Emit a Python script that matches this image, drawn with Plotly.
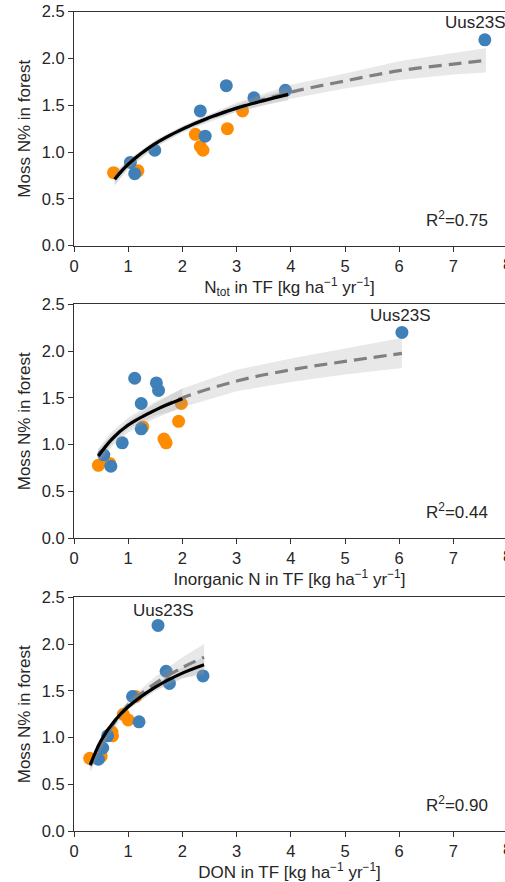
import plotly.graph_objects as go

# ---------------- data ----------------
moss_blue = [2.20, 0.89, 0.77, 1.02, 1.44, 1.17, 1.71, 1.58, 1.66]
moss_orange = [0.78, 0.80, 1.19, 1.06, 1.02, 1.25, 1.44]

ntot_blue = [7.58, 1.04, 1.12, 1.49, 2.33, 2.42, 2.81, 3.32, 3.90]
ntot_orange = [0.73, 1.18, 2.24, 2.33, 2.38, 2.83, 3.11]

inorg_blue = [6.05, 0.55, 0.68, 0.89, 1.24, 1.24, 1.12, 1.56, 1.52]
inorg_orange = [0.45, 0.66, 1.27, 1.66, 1.70, 1.93, 1.98]

don_blue = [1.55, 0.53, 0.45, 0.62, 1.08, 1.20, 1.70, 1.76, 2.38]
don_orange = [0.29, 0.50, 1.00, 0.70, 0.71, 0.91, 1.14]

# fitted curves (solid: without Uus23S, dashed: with Uus23S)
fit1_x = [0.75, 1.0, 1.5, 2.0, 2.5, 3.0, 3.5, 3.95]
fit1_y = [0.71, 0.87, 1.09, 1.245, 1.37, 1.47, 1.55, 1.617]
fit1_lo = [0.65, 0.83, 1.06, 1.215, 1.34, 1.43, 1.50, 1.55]
fit1_hi = [0.77, 0.91, 1.12, 1.275, 1.40, 1.51, 1.60, 1.68]
dash1_x = [0.75, 1.0, 1.5, 2.0, 3.0, 4.0, 5.0, 6.0, 7.0, 7.6]
dash1_y = [0.71, 0.87, 1.09, 1.245, 1.47, 1.64, 1.76, 1.87, 1.94, 1.98]
dash1_lo = [0.64, 0.82, 1.05, 1.21, 1.43, 1.57, 1.68, 1.77, 1.83, 1.85]
dash1_hi = [0.78, 0.92, 1.13, 1.28, 1.53, 1.72, 1.84, 1.97, 2.06, 2.11]

fit2_x = [0.45, 0.7, 1.0, 1.5, 2.0]
fit2_y = [0.88, 1.06, 1.21, 1.37, 1.49]
fit2_lo = [0.81, 1.01, 1.17, 1.31, 1.39]
fit2_hi = [0.95, 1.11, 1.25, 1.44, 1.60]
dash2_x = [0.45, 0.7, 1.0, 1.5, 2.0, 3.0, 4.0, 5.0, 6.05]
dash2_y = [0.88, 1.06, 1.21, 1.37, 1.50, 1.68, 1.80, 1.89, 1.975]
dash2_lo = [0.80, 0.98, 1.13, 1.28, 1.40, 1.57, 1.67, 1.75, 1.82]
dash2_hi = [0.96, 1.14, 1.29, 1.46, 1.60, 1.80, 1.92, 2.03, 2.14]

fit3_x = [0.3, 0.5, 0.75, 1.0, 1.5, 2.0, 2.4]
fit3_y = [0.71, 0.97, 1.18, 1.33, 1.54, 1.69, 1.78]
fit3_lo = [0.66, 0.94, 1.15, 1.30, 1.50, 1.63, 1.70]
fit3_hi = [0.76, 1.00, 1.21, 1.36, 1.58, 1.75, 1.86]
dash3_x = [0.3, 0.6, 1.0, 1.5, 2.0, 2.4]
dash3_y = [0.70, 1.03, 1.35, 1.58, 1.75, 1.86]
dash3_lo = [0.63, 0.98, 1.30, 1.51, 1.64, 1.67]
dash3_hi = [0.77, 1.08, 1.40, 1.65, 1.86, 2.00]

outlier_label = "Uus23S"
outlier_pos = [(7.40, 2.38), (6.01, 2.375), (1.65, 2.36)]
r2_texts = ["R<sup>2</sup>=0.75", "R<sup>2</sup>=0.44", "R<sup>2</sup>=0.90"]

x_titles = [
    "N<sub>tot</sub> in TF [kg ha<sup>−1</sup> yr<sup>−1</sup>]",
    "Inorganic N in TF [kg ha<sup>−1</sup> yr<sup>−1</sup>]",
    "DON in TF [kg ha<sup>−1</sup> yr<sup>−1</sup>]",
]
y_title = "Moss N% in forest"
x_ticks = [0, 1, 2, 3, 4, 5, 6, 7]
y_ticks = [0.0, 0.5, 1.0, 1.5, 2.0, 2.5]

# ---------------- styling ----------------
W, H = 505, 882
FONT = "Liberation Sans, Arial, sans-serif"
TXT = "#262626"
BLUE = "#4080b8"
ORANGE = "#ff8c00"
BAND = "rgba(150,150,150,0.22)"
TICK_FS = 16.5
TITLE_FS = 17

panels = [
    dict(bx=ntot_blue, ox=ntot_orange, fx=fit1_x, fy=fit1_y, flo=fit1_lo, fhi=fit1_hi,
         dx=dash1_x, dy=dash1_y, dlo=dash1_lo, dhi=dash1_hi),
    dict(bx=inorg_blue, ox=inorg_orange, fx=fit2_x, fy=fit2_y, flo=fit2_lo, fhi=fit2_hi,
         dx=dash2_x, dy=dash2_y, dlo=dash2_lo, dhi=dash2_hi),
    dict(bx=don_blue, ox=don_orange, fx=fit3_x, fy=fit3_y, flo=fit3_lo, fhi=fit3_hi,
         dx=dash3_x, dy=dash3_y, dlo=dash3_lo, dhi=dash3_hi),
]

# pixel layout (top, bottom of each plotting area)
px_top = [11.7, 304.3, 597.3]
px_bot = [245.7, 538.3, 831.3]
left = 74
px_per_unit = 54.2
plot_w = W - left
x_max = plot_w / px_per_unit

fig = go.Figure()
layout = dict(
    width=W, height=H,
    margin=dict(l=left, r=0, t=0, b=0, autoexpand=False),
    paper_bgcolor="white", plot_bgcolor="white",
    showlegend=False,
    font=dict(family=FONT, color=TXT, size=TICK_FS),
)

annotations = []
for i, p in enumerate(panels):
    n = i + 1
    xa = "x" if n == 1 else f"x{n}"
    ya = "y" if n == 1 else f"y{n}"
    # points
    fig.add_trace(go.Scatter(x=p["ox"], y=moss_orange, mode="markers", xaxis=xa, yaxis=ya,
                             marker=dict(color=ORANGE, size=13, line=dict(width=0))))
    fig.add_trace(go.Scatter(x=p["bx"], y=moss_blue, mode="markers", xaxis=xa, yaxis=ya,
                             marker=dict(color=BLUE, size=13, line=dict(width=0))))
    # bands
    for bx, lo, hi in [(p["dx"], p["dlo"], p["dhi"]), (p["fx"], p["flo"], p["fhi"])]:
        fig.add_trace(go.Scatter(x=bx + bx[::-1], y=hi + lo[::-1], mode="lines", fill="toself",
                                 fillcolor=BAND, line=dict(width=0),
                                 xaxis=xa, yaxis=ya, hoverinfo="skip"))
    # dashed fit
    fig.add_trace(go.Scatter(x=p["dx"], y=p["dy"], mode="lines", xaxis=xa, yaxis=ya,
                             line=dict(color="#808080", width=3.2, dash="13px,7px", shape="spline")))
    # solid fit
    fig.add_trace(go.Scatter(x=p["fx"], y=p["fy"], mode="lines", xaxis=xa, yaxis=ya,
                             line=dict(color="black", width=3.2, shape="spline")))

    dom = [1 - px_bot[i] / H, 1 - px_top[i] / H]
    axkey = "xaxis" if n == 1 else f"xaxis{n}"
    aykey = "yaxis" if n == 1 else f"yaxis{n}"
    layout[axkey] = dict(
        domain=[0, 1], anchor=ya, range=[0, x_max], tickvals=x_ticks, automargin=False,
        showgrid=False, zeroline=False, showline=True, linecolor="#333333", linewidth=1.2,
        mirror=True, ticks="outside", ticklen=5, tickwidth=1.2, tickcolor="#333333",
        tickfont=dict(size=TICK_FS, color=TXT, family=FONT),
        title=dict(text=x_titles[i], font=dict(size=TITLE_FS, color=TXT, family=FONT), standoff=5),
    )
    layout[aykey] = dict(
        domain=dom, anchor=xa, range=[0, 2.5], tickvals=y_ticks, tickformat=".1f",
        automargin=False,
        showgrid=False, zeroline=False, showline=True, linecolor="#333333", linewidth=1.2,
        ticks="outside", ticklen=5, tickwidth=1.2, tickcolor="#333333",
        tickfont=dict(size=TICK_FS, color=TXT, family=FONT),
        title=dict(text=y_title, font=dict(size=TITLE_FS, color=TXT, family=FONT), standoff=6),
    )
    # outlier label
    annotations.append(dict(x=outlier_pos[i][0], y=outlier_pos[i][1], xref=xa, yref=ya,
                            text=outlier_label, showarrow=False,
                            font=dict(size=TITLE_FS, color=TXT, family=FONT)))
    # R^2
    annotations.append(dict(x=7.07, y=0.29, xref=xa, yref=ya, text=r2_texts[i], showarrow=False,
                            font=dict(size=TITLE_FS, color=TXT, family=FONT)))
    # partially visible "8" tick label at the cut-off right edge (as in the reference)
    annotations.append(dict(x=(8 * px_per_unit) / plot_w, y=dom[0], xref="paper", yref="paper",
                            xanchor="center", yanchor="top", yshift=-7, text="8", showarrow=False,
                            font=dict(size=TICK_FS, color=TXT, family=FONT)))

layout["annotations"] = annotations
fig.update_layout(**layout)
fig.write_html("out.html")
